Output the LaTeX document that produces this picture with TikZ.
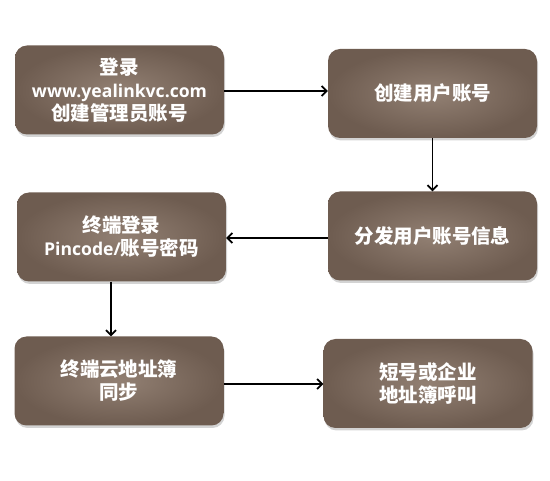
\documentclass[tikz,border=0pt]{standalone}
\usepackage{fontspec}
\setmainfont{Open Sans}
\newfontfamily\cjk{Noto Sans CJK SC}
\newcommand{\latn}{\fontsize{17.6}{23}\selectfont}
\usetikzlibrary{shadows,arrows.meta}
\definecolor{boxin}{RGB}{146,128,115}
\definecolor{boxout}{RGB}{110,92,80}
\tikzset{
  box/.style={rounded corners=12pt, minimum width=209pt, minimum height=89pt,
    shading=radial, inner color=boxin, outer color=boxout,
    drop shadow={opacity=0.35, shadow xshift=1pt, shadow yshift=-2.5pt},
    text=white, font=\bfseries\cjk\fontsize{19.5}{23}\selectfont, align=center, inner sep=0pt},
  conn/.style={draw=black, line width=1.8pt, -{Straight Barb[length=5pt,width=10pt,line width=1.8pt]}}
}
\begin{document}
\begin{tikzpicture}[x=1pt,y=-1pt]
\useasboundingbox (0,0) rectangle (550,481);
\node[box] (b1) at (119.5,90) {登录\\{\rmfamily\latn www.yealinkvc.com}\\创建管理员账号};
\node[box] (b2) at (432.5,93.5) {创建用户账号};
\node[box] (b3) at (121.5,237) {终端登录\\{\rmfamily\latn Pincode/}账号密码};
\node[box] (b4) at (432.5,236) {分发用户账号信息};
\node[box] (b5) at (119,381) {终端云地址簿\\同步};
\node[box] (b6) at (428,383.5) {短号或企业\\地址簿呼叫};
\coordinate (c1) at (b1.east |- 0,91);
\draw[conn] (c1) -- (c1 -| b2.west);
\draw[conn] (b2.south) -- (b4.north);
\coordinate (c4) at (b4.west |- 0,238);
\draw[conn] (c4) -- (c4 -| b3.east);
\coordinate (c3) at (b3.south -| 111,0);
\draw[conn] (c3) -- (c3 |- b5.north);
\coordinate (c5) at (b5.east |- 0,384);
\draw[conn] (c5) -- (c5 -| b6.west);
\end{tikzpicture}
\end{document}
